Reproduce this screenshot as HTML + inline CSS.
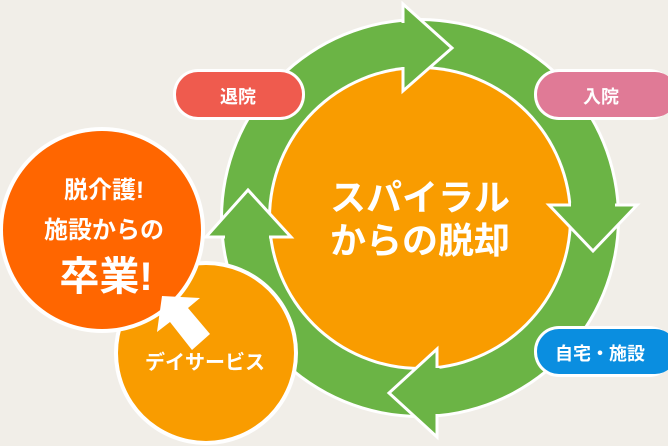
<!DOCTYPE html>
<html><head><meta charset="utf-8"><style>
html,body{margin:0;padding:0;background:#f1eee8;}
svg{display:block;}
text{font-family:"Liberation Sans","Noto Sans CJK JP",sans-serif;fill:#fff;font-weight:bold;text-anchor:middle;}
</style></head><body>
<svg width="668" height="446" viewBox="0 0 668 446">
<rect width="668" height="446" fill="#f1eee8"/>
<!-- ring -->
<circle cx="420" cy="218" r="200" fill="#fff"/>
<circle cx="420" cy="218" r="197" fill="#6bb445"/>
<circle cx="420" cy="218" r="152" fill="#fff"/>
<circle cx="420" cy="218" r="149" fill="#f99c00"/>
<!-- arrowheads -->
<g fill="#6bb445" stroke="#fff" stroke-width="3" stroke-linejoin="miter">
<polygon points="403,4 452,48 403,91"/>
<polygon points="549,205 637,205 593,251"/>
<polygon points="437,349 437,437 389,393"/>
<polygon points="206,237 291,237 248,190"/>
</g>
<!-- cover base lines inside ring band -->
<g stroke="#6bb445" stroke-width="5">
<line x1="403" y1="23" x2="403" y2="67"/>
<line x1="571" y1="205" x2="615" y2="205"/>
<line x1="437" y1="368" x2="437" y2="414"/>
<line x1="225" y1="237" x2="269" y2="237"/>
</g>
<text x="420" y="210" font-size="36">スパイラル</text>
<text x="420" y="253" font-size="36">からの脱却</text>
<!-- pills -->
<rect x="173" y="69" width="132" height="51" rx="25" fill="#fff"/>
<rect x="176" y="72" width="126" height="45" rx="22" fill="#ef5b4e"/>
<text x="238" y="103" font-size="18" font-weight="normal">退院</text>
<rect x="534" y="69" width="140" height="51" rx="25" fill="#fff"/>
<rect x="537" y="72" width="140" height="45" rx="22" fill="#e07a96"/>
<text x="601" y="103" font-size="18" font-weight="normal">入院</text>
<rect x="534" y="326" width="140" height="51" rx="25" fill="#fff"/>
<rect x="537" y="329" width="140" height="45" rx="22" fill="#0a8ee0"/>
<text x="600" y="360" font-size="18" font-weight="normal">自宅・施設</text>
<!-- day service -->
<circle cx="206" cy="353" r="92" fill="#fff"/>
<circle cx="206" cy="353" r="88" fill="#f99c00"/>
<text x="205" y="369" font-size="20">デイサービス</text>
<!-- 卒業 -->
<circle cx="102" cy="230" r="103" fill="#fff"/>
<circle cx="102" cy="230" r="99" fill="#ff6600"/>
<text x="104" y="198" font-size="24" font-weight="normal">脱介護!</text>
<text x="104" y="238" font-size="24" font-weight="normal">施設からの</text>
<text x="106" y="290" font-size="40">卒業!</text>
<!-- white arrow -->
<polygon points="162,296 200,298 188,308 210,334 192,350 170,322 157,332" fill="#fff"/>
</svg>
</body></html>
